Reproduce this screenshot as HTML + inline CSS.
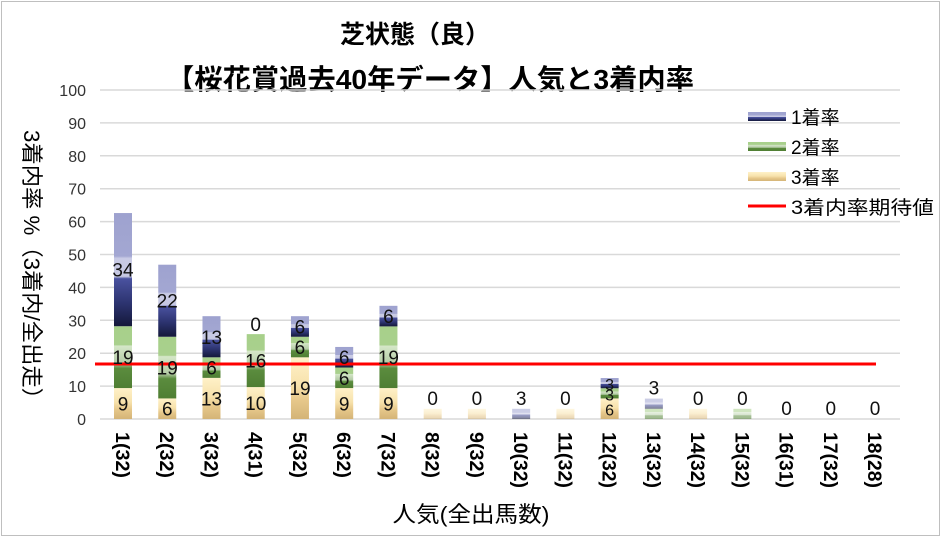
<!DOCTYPE html>
<html><head><meta charset="utf-8"><style>
body{margin:0;background:#fff}
svg{display:block;font-family:"Liberation Sans","Noto Sans CJK JP",sans-serif}
</style></head><body>
<svg id="s" width="941" height="537" xmlns="http://www.w3.org/2000/svg">
<defs>
<linearGradient id="gb" x1="0" y1="0" x2="0" y2="1">
<stop offset="0" stop-color="#9ea2cf"/><stop offset="0.38" stop-color="#a3a7d2"/><stop offset="0.4" stop-color="#c9cbe5"/><stop offset="0.56" stop-color="#c6c8e2"/><stop offset="0.58" stop-color="#4a529f"/><stop offset="0.8" stop-color="#2c336f"/><stop offset="1" stop-color="#14183a"/></linearGradient>
<linearGradient id="gg" x1="0" y1="0" x2="0" y2="1">
<stop offset="0" stop-color="#a7d08a"/><stop offset="0.3" stop-color="#a9d08d"/><stop offset="0.32" stop-color="#d5e7c8"/><stop offset="0.6" stop-color="#b4cba6"/><stop offset="0.68" stop-color="#5b8c3e"/><stop offset="1" stop-color="#4f7e33"/></linearGradient>
<linearGradient id="gy" x1="0" y1="0" x2="0" y2="1">
<stop offset="0" stop-color="#fff1c8"/><stop offset="0.45" stop-color="#f7e2ac"/><stop offset="0.7" stop-color="#e6c78a"/><stop offset="1" stop-color="#d4b477"/></linearGradient>
</defs>
<rect x="1.5" y="1.5" width="938" height="534" fill="#fff" stroke="#bfbfbf"/>
<text x="415" y="43" font-size="25" font-weight="bold" text-anchor="middle">芝状態（良）</text>
<text x="430" y="89" font-size="28" font-weight="bold" text-anchor="middle" textLength="528" lengthAdjust="spacingAndGlyphs">【桜花賞過去40年データ】人気と3着内率</text>
<g id="grid"></g>
<g id="bars"></g>
<line x1="95" y1="364" x2="876" y2="364" stroke="#ff0000" stroke-width="3"/>
<g id="lbl"></g>
<text transform="translate(24,270) rotate(90)" font-size="22" text-anchor="middle" textLength="280" lengthAdjust="spacingAndGlyphs">3着内率 %（3着内/全出走）</text>
<text x="471" y="522" font-size="22" text-anchor="middle" textLength="157" lengthAdjust="spacingAndGlyphs">人気(全出馬数)</text>
<rect x="748" y="112" width="38" height="9" fill="url(#gb)"/>
<text x="791" y="124" font-size="19">1着率</text>
<rect x="748" y="142" width="38" height="9" fill="url(#gg)"/>
<text x="791" y="154" font-size="19">2着率</text>
<rect x="748" y="172" width="38" height="9" fill="url(#gy)"/>
<text x="791" y="184" font-size="19">3着率</text>
<line x1="748" y1="206" x2="786" y2="206" stroke="#ff0000" stroke-width="3"/>
<text x="791" y="214" font-size="19" textLength="143" lengthAdjust="spacingAndGlyphs">3着内率期待値</text>
</svg>
<script>
var NS="http://www.w3.org/2000/svg";
function el(p,t,a,txt){var e=document.createElementNS(NS,t);for(var k in a)e.setAttribute(k,a[k]);if(txt!==undefined)e.appendChild(document.createTextNode(String(txt)));document.getElementById(p).appendChild(e);return e;}
var y0=419,k=3.29;
for(var v=0;v<=100;v+=10){var y=y0-v*k;el("grid","line",{x1:100,x2:900,y1:y,y2:y,stroke:"#d9d9d9","stroke-width":1.5});el("grid","text",{x:86,y:y+6,"font-size":16,"text-anchor":"end",fill:"#333"},v);}
var d=[[9.4,18.8,34.4],[6.25,18.75,21.9],[12.5,6.25,12.5],[9.7,16.1,0],[18.75,6.25,6.25],[9.4,6.25,6.25],[9.4,18.75,6.25],[3.1,0,0],[3.1,0,0],[0,0,3.1],[3.1,0,0],[6.25,3.1,3.1],[0,3.1,3.1],[3.1,0,0],[0,3.1,0],[0,0,0],[0,0,0],[0,0,0]];
var lab=[[9,19,34],[6,19,22],[13,6,13],[10,16,0],[19,6,6],[9,6,6],[9,19,6],[0,0,0],[0,0,0],[0,0,3],[0,0,0],[6,3,3],[0,0,3],[0,0,0],[0,0,0],[0,0,0],[0,0,0],[0,0,0]];
var names=["1(32)","2(32)","3(32)","4(31)","5(32)","6(32)","7(32)","8(32)","9(32)","10(32)","11(32)","12(32)","13(32)","14(32)","15(32)","16(31)","17(32)","18(28)"];
var fills=["url(#gy)","url(#gg)","url(#gb)"];
for(var i=0;i<18;i++){var cx=123+i*44.24,base=y0;var big=(i<7||i==11);
 for(var j=0;j<3;j++){var h=d[i][j]*k;
  if(h>0){el("bars","rect",{x:cx-9,y:base-h,width:18,height:h,fill:fills[j],"fill-opacity":big?1:0.55});}
  if(big&&h>0) el("lbl","text",{x:cx,y:base-h/2+7,"font-size":i!=11?19:16,"text-anchor":"middle",fill:"#111"},lab[i][j]);
  base-=h;}
 if(i==3){el("lbl","text",{x:cx,y:base-3,"font-size":19,"text-anchor":"middle",fill:"#111"},"0");}
 if(!big){el("lbl","text",{x:cx,y:base-4,"font-size":19,"text-anchor":"middle",fill:"#111"},lab[i][2]);}
 el("lbl","text",{transform:"translate("+(cx-7)+",432) rotate(90)","font-size":19,"font-weight":"bold",textLength:(names[i].length>5?56:46),lengthAdjust:"spacingAndGlyphs"},names[i]);
}
</script>
</body></html>
